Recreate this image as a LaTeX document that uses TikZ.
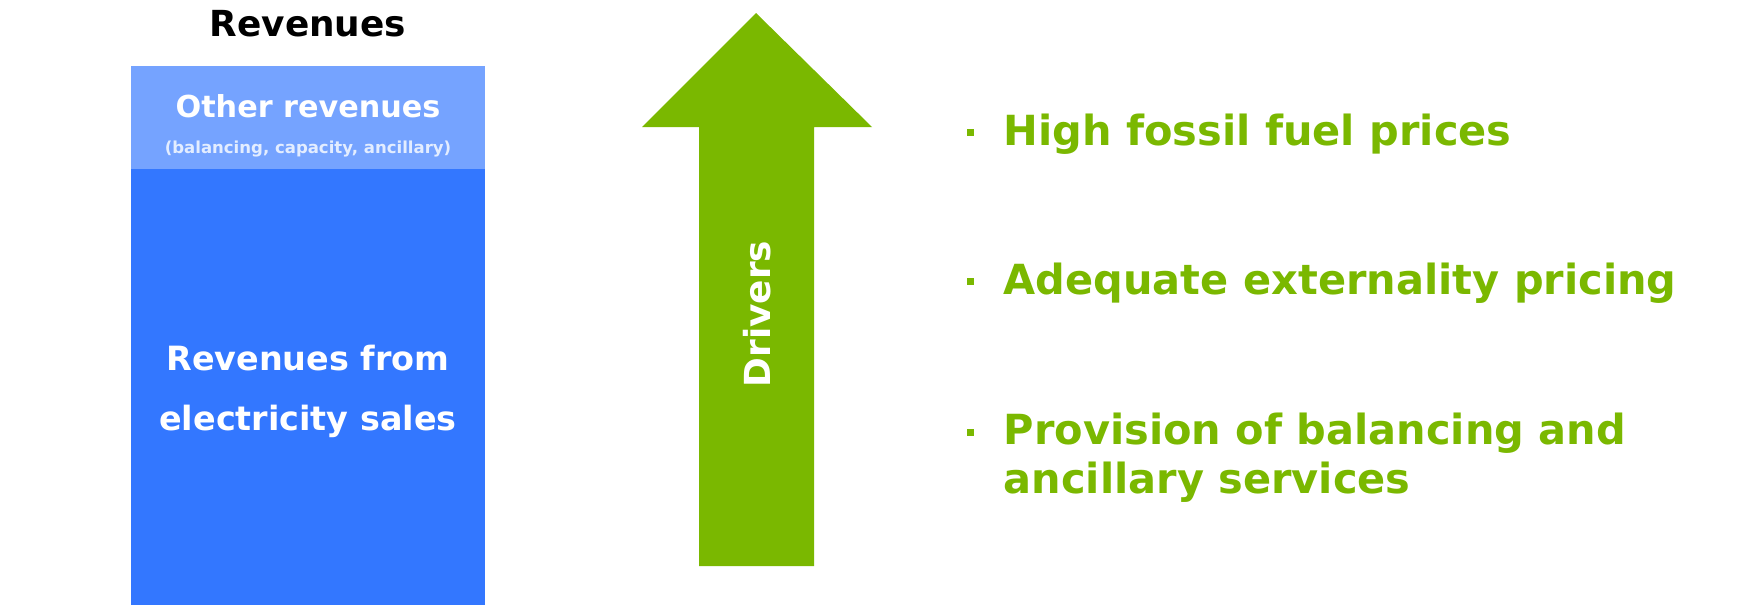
\documentclass[tikz,border=0pt]{standalone}
\usepackage{fontspec}
\setmainfont{DejaVu Sans}
\definecolor{revlight}{RGB}{117,163,255}
\definecolor{revdark}{RGB}{51,119,255}
\definecolor{drvgreen}{RGB}{122,184,0}
\begin{document}
\begin{tikzpicture}[x=0.01cm,y=-0.01cm]

    \tikzset{boxtext/.style={text=white,anchor=base,inner sep=0,align=center},
             item/.style={text=drvgreen,anchor=base west,inner sep=0,align=left,
                 font=\bfseries\fontsize{11.8}{13.9}\selectfont},
             bullet/.style={fill=drvgreen,inner sep=0,minimum size=0.07cm}}
    \useasboundingbox (0,0) rectangle (1737,605);

    % revenue stack
    \fill[revlight] (131,66) rectangle (485,169);
    \fill[revdark] (131,169) rectangle (485,605);
    \node[anchor=base,inner sep=0,font=\bfseries\fontsize{10.2}{12}\selectfont] (rev) at (308,36) {Revenues};
    \node[boxtext,font=\bfseries\fontsize{8.6}{10}\selectfont] (oth) at (308,117) {Other revenues};
    \node[boxtext,text=white!80!revlight,font=\bfseries\fontsize{4.7}{5}\selectfont] (anc) at (308,153) {(balancing, capacity, ancillary)};
    \node[boxtext,font=\bfseries\fontsize{9.5}{16.8}\selectfont] (sales) at (308,430) {Revenues from\\electricity sales};

    % drivers arrow
    \fill[drvgreen] (699,566) -- (699,127) -- (642,127) -- (756,13) -- (872,127) -- (814,127) -- (814,566) -- cycle;
    \node[rotate=90,text=white,inner sep=0,font=\bfseries\fontsize{10.2}{12}\selectfont] (drv) at (757,314) {Drivers};

    \node[item] (i1) at (1003,145) {High fossil fuel prices};
    \node[item] (i2) at (1003,294) {Adequate externality pricing};
    \node[item] (i3) at (1003,493) {Provision of balancing and\\ancillary services};
    \foreach \i/\y in {1/132,2/281,3/432}
        \node[bullet] (b\i) at (970,\y) {};
\end{tikzpicture}
\end{document}
